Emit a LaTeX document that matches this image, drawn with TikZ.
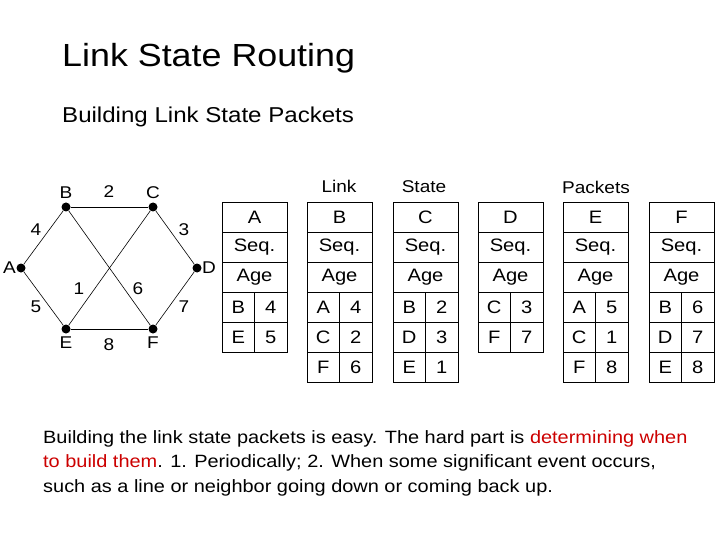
\documentclass[tikz,border=0pt]{standalone}
\usepackage{fontspec}
\setmainfont{Liberation Sans}[FakeStretch=1.12]
\usetikzlibrary{positioning}

\definecolor{hotred}{RGB}{204,0,0}

\tikzset{
    vertex/.style={circle,fill=black,inner sep=0pt,minimum size=9pt},
    link/.style={line width=0.6pt},
    weight/.style={font=\fontsize{17}{17}\selectfont},
    cell/.style={draw,line width=0.8pt,minimum width=65pt,minimum height=30pt,inner sep=0pt,outer sep=0pt,
        font=\fontsize{18}{18}\selectfont},
    halfcell/.style={cell,minimum width=32.5pt},
}

% one link state packet: name, left edge, neighbour/cost pairs
\newcommand{\lsppacket}[3]{%
    \node[cell] (#1-id) at (#2+32.5,217) {#1};
    \node[cell] (#1-seq) at (#2+32.5,247) {Seq.};
    \node[cell] (#1-age) at (#2+32.5,277) {Age};
    \foreach \nb/\cost [count=\i] in {#3} {
        \node[halfcell] (#1-nb\i) at (#2+16.25,{277+30*\i}) {\nb};
        \node[halfcell] (#1-cost\i) at (#2+48.75,{277+30*\i}) {\cost};
    }
}

\begin{document}
\begin{tikzpicture}[x=1pt,y=-1pt]
    \useasboundingbox (0,0) rectangle (720,540);

    \node[anchor=base west,inner sep=0pt,font=\fontsize{32}{32}\selectfont] (title) at (62,67) {Link State Routing};
    \node[anchor=base west,inner sep=0pt,font=\fontsize{21.5}{21.5}\selectfont] (subtitle) at (62,123) {Building Link State Packets};

    % the subnet
    \node[vertex,label={[weight]above:B}] (B) at (66,207) {};
    \node[vertex,label={[weight]above:C}] (C) at (153,207) {};
    \node[vertex,label={[weight,label distance=-3pt]left:A}] (A) at (21,268) {};
    \node[vertex,label={[weight,label distance=-3pt]right:D}] (D) at (197,268) {};
    \node[vertex,label={[weight]below:E}] (E) at (66,329) {};
    \node[vertex,label={[weight]below:F}] (F) at (153,329) {};

    \draw[link] (A) -- (B);
    \draw[link] (B) -- (C);
    \draw[link] (C) -- (D);
    \draw[link] (A) -- (E);
    \draw[link] (E) -- (F);
    \draw[link] (F) -- (D);
    \draw[link] (B) -- (F);
    \draw[link] (C) -- (E);

    \node[weight] (w-BC) at (109,192) {2};
    \node[weight] (w-AB) at (36,230) {4};
    \node[weight] (w-CD) at (184,230) {3};
    \node[weight] (w-CE) at (79,289) {1};
    \node[weight] (w-BF) at (138,289) {6};
    \node[weight] (w-AE) at (36,307) {5};
    \node[weight] (w-DF) at (184,307) {7};
    \node[weight] (w-EF) at (109,345) {8};

    % the packets
    \node[weight] (hd-link) at (339,186) {Link};
    \node[weight] (hd-state) at (424,187) {State};
    \node[weight] (hd-packets) at (596,187) {Packets};

    \lsppacket{A}{222}{B/4,E/5}
    \lsppacket{B}{307}{A/4,C/2,F/6}
    \lsppacket{C}{393}{B/2,D/3,E/1}
    \lsppacket{D}{478}{C/3,F/7}
    \lsppacket{E}{563}{A/5,C/1,F/8}
    \lsppacket{F}{649}{B/6,D/7,E/8}

    \node[anchor=base west,inner sep=0pt,align=left,font=\fontsize{17.8}{24.2}\selectfont] (note) at (43,492)
        {Building the link state packets is easy. The hard part is \textcolor{hotred}{determining when}\\
         \textcolor{hotred}{to build them}. 1. Periodically; 2. When some significant event occurs,\\
         such as a line or neighbor going down or coming back up.};
\end{tikzpicture}
\end{document}
